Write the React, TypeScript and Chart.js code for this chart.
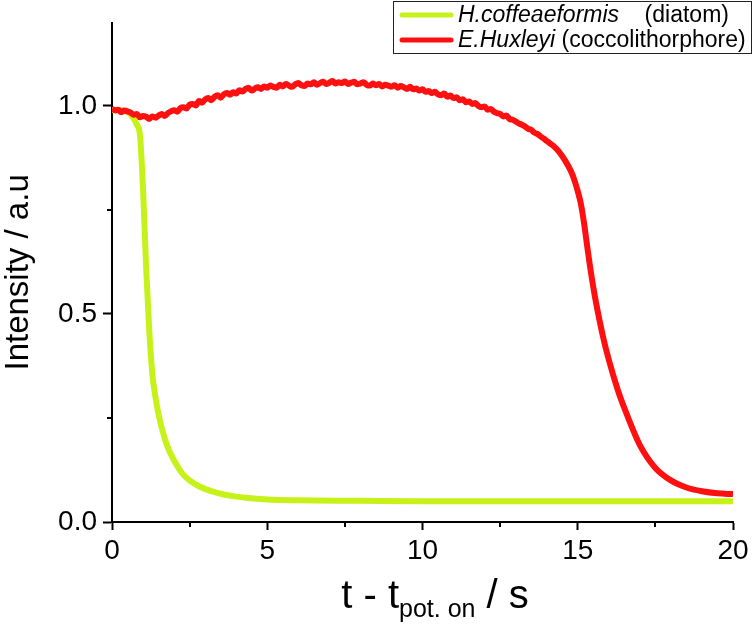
import React, { useEffect, useRef } from "react";
import { Chart, registerables } from "chart.js";

Chart.register(...registerables);

// ---------- data ----------
const redTimes = [
  0, 0.1, 0.2, 0.3, 0.4, 0.5, 0.6, 0.7, 0.8, 0.9,
  1.0, 1.1, 1.2, 1.3, 1.4, 1.5, 1.6, 1.7, 1.8, 1.9,
  2.0, 2.1, 2.2, 2.3, 2.4, 2.5, 2.6, 2.7, 2.8, 2.9,
  3.0, 3.1, 3.2, 3.3, 3.4, 3.5, 3.6, 3.7, 3.8, 3.9,
  4.0, 4.1, 4.2, 4.3, 4.4, 4.5, 4.6, 4.7, 4.8, 4.9,
  5.0, 5.1, 5.2, 5.3, 5.4, 5.5, 5.6, 5.7, 5.8, 5.9,
  6.0, 6.1, 6.2, 6.3, 6.4, 6.5, 6.6, 6.7, 6.8, 6.9,
  7.0, 7.1, 7.2, 7.3, 7.4, 7.5, 7.6, 7.7, 7.8, 7.9,
  8.0, 8.1, 8.2, 8.3, 8.4, 8.5, 8.6, 8.7, 8.8, 8.9,
  9.0, 9.1, 9.2, 9.3, 9.4, 9.5, 9.6, 9.7, 9.8, 9.9,
  10.0, 10.1, 10.2, 10.3, 10.4, 10.5, 10.6, 10.7, 10.8, 10.9,
  11.0, 11.1, 11.2, 11.3, 11.4, 11.5, 11.6, 11.7, 11.8, 11.9,
  12.0, 12.1, 12.2, 12.3, 12.4, 12.5, 12.6, 12.7, 12.8, 12.9,
  13.0, 13.1, 13.2, 13.3, 13.4, 13.5, 13.6, 13.7, 13.8, 13.9,
  14.0, 14.2, 14.4, 14.6, 14.8, 14.9, 15.0, 15.1, 15.2, 15.3,
  15.4, 15.5, 15.6, 15.8, 16.0, 16.3, 16.6, 17.0, 17.5, 18.0,
  18.5, 19.0, 19.5, 20.0,
];
const redValues = [
  0.993, 0.990, 0.991, 0.985, 0.989, 0.987, 0.984, 0.979, 0.981, 0.973,
  0.976, 0.974, 0.969, 0.975, 0.972, 0.977, 0.981, 0.976, 0.983, 0.987,
  0.990, 0.986, 0.995, 0.997, 0.994, 1.003, 1.005, 1.001, 1.012, 1.008,
  1.016, 1.019, 1.014, 1.022, 1.026, 1.020, 1.028, 1.031, 1.027, 1.033,
  1.030, 1.038, 1.035, 1.041, 1.044, 1.037, 1.042, 1.045, 1.041, 1.047,
  1.044, 1.049, 1.046, 1.044, 1.051, 1.047, 1.053, 1.049, 1.046, 1.052,
  1.055, 1.050, 1.048, 1.054, 1.052, 1.057, 1.051, 1.055, 1.058, 1.053,
  1.056, 1.060, 1.054, 1.057, 1.055, 1.059, 1.053, 1.056, 1.058, 1.052,
  1.054, 1.057, 1.051, 1.049, 1.054, 1.050, 1.053, 1.047, 1.051, 1.049,
  1.046, 1.050, 1.044, 1.048, 1.045, 1.041, 1.046, 1.040, 1.042, 1.037,
  1.040, 1.034, 1.036, 1.031, 1.034, 1.028, 1.026, 1.030, 1.022, 1.025,
  1.019, 1.021, 1.014, 1.016, 1.009, 1.011, 1.005, 1.007, 1.000, 0.997,
  0.999, 0.991, 0.993, 0.986, 0.983, 0.981, 0.975, 0.977, 0.969, 0.967,
  0.963, 0.958, 0.955, 0.951, 0.945, 0.943, 0.936, 0.933, 0.927, 0.922,
  0.916, 0.905, 0.890, 0.868, 0.840, 0.820, 0.795, 0.765, 0.720, 0.665,
  0.612, 0.565, 0.523, 0.450, 0.390, 0.315, 0.255, 0.185, 0.130, 0.100,
  0.083, 0.074, 0.069, 0.067,
];

const greenTimes = [
  0, 0.3, 0.5, 0.65, 0.8, 0.9, 1.0, 1.1, 1.2, 1.3,
  1.4, 1.5, 1.7, 1.85, 2.0, 2.27, 2.5, 2.8, 3.2, 3.6,
  4.0, 4.5, 5.0, 6.0, 8.0, 10.0, 15.0, 20.0,
];
const greenValues = [
  0.99, 0.99, 0.985, 0.975, 0.955, 0.93, 0.80, 0.61, 0.46, 0.355,
  0.30, 0.258, 0.20, 0.17, 0.148, 0.116, 0.10, 0.086, 0.074, 0.066,
  0.061, 0.057, 0.054, 0.052, 0.051, 0.05, 0.05, 0.05,
];

const xTicks = [0, 5, 10, 15, 20];
const yTicks = [0, 0.5, 1.0];
const xMinorTicks = [2.5, 7.5, 12.5, 17.5];
const yMinorTicks = [0.25, 0.75];

const greenLabel = ["H.coffeaeformis", "    (diatom)"];
const redLabel = ["E.Huxleyi", " (coccolithorphore)"];
const yTitle = "Intensity / a.u";
const xTitleParts = ["t - t", "pot. on", " / s"];

const GREEN = "#c6f21a";
const RED = "#ff1010";
const FONT = "'Liberation Sans', Arial, sans-serif";

const decorPlugin = {
  id: "decor",
  afterDraw(chart: any) {
    const ctx = chart.ctx as CanvasRenderingContext2D;
    const xs = chart.scales.x;
    const ys = chart.scales.y;
    const area = chart.chartArea;
    ctx.save();
    // minor ticks
    ctx.strokeStyle = "#000";
    ctx.lineWidth = 2;
    xMinorTicks.forEach((v) => {
      const px = Math.round(xs.getPixelForValue(v));
      ctx.beginPath();
      ctx.moveTo(px, area.bottom);
      ctx.lineTo(px, area.bottom + 5);
      ctx.stroke();
    });
    yMinorTicks.forEach((v) => {
      const py = Math.round(ys.getPixelForValue(v));
      ctx.beginPath();
      ctx.moveTo(area.left, py);
      ctx.lineTo(area.left - 5, py);
      ctx.stroke();
    });

    // y title
    ctx.save();
    ctx.translate(28, (area.top + area.bottom) / 2);
    ctx.rotate(-Math.PI / 2);
    ctx.fillStyle = "#000";
    ctx.font = `33px ${FONT}`;
    ctx.textAlign = "center";
    ctx.textBaseline = "alphabetic";
    ctx.fillText(yTitle, 0, 0);
    ctx.restore();

    // x title with subscript
    const bigFont = `40px ${FONT}`;
    const subFont = `25px ${FONT}`;
    ctx.font = bigFont;
    const w1 = ctx.measureText(xTitleParts[0]).width;
    const w3 = ctx.measureText(xTitleParts[2]).width;
    ctx.font = subFont;
    const w2 = ctx.measureText(xTitleParts[1]).width;
    const total = w1 + w2 + w3;
    let x = 435 - total / 2;
    const base = 608;
    ctx.fillStyle = "#000";
    ctx.textBaseline = "alphabetic";
    ctx.textAlign = "left";
    ctx.font = bigFont;
    ctx.fillText(xTitleParts[0], x, base);
    x += w1;
    ctx.font = subFont;
    ctx.fillText(xTitleParts[1], x, base + 9);
    x += w2;
    ctx.font = bigFont;
    ctx.fillText(xTitleParts[2], x, base);

    // legend
    ctx.lineWidth = 1;
    ctx.strokeStyle = "#222";
    ctx.strokeRect(393.5, 1.5, 358, 52);
    const rows = [
      { color: GREEN, parts: greenLabel, y: 15 },
      { color: RED, parts: redLabel, y: 40 },
    ];
    rows.forEach((r) => {
      ctx.strokeStyle = r.color;
      ctx.lineWidth = 5;
      ctx.lineCap = "round";
      ctx.beginPath();
      ctx.moveTo(402, r.y);
      ctx.lineTo(451, r.y);
      ctx.stroke();
      ctx.fillStyle = "#000";
      ctx.textBaseline = "middle";
      ctx.font = `italic 23px ${FONT}`;
      ctx.fillText(r.parts[0], 458, r.y + 1);
      const wi = ctx.measureText(r.parts[0]).width;
      ctx.font = `23px ${FONT}`;
      ctx.fillText(r.parts[1], 458 + wi, r.y + 1);
    });
    ctx.restore();
  },
};

export default function App() {
  const ref = useRef<HTMLCanvasElement | null>(null);
  useEffect(() => {
    if (!ref.current) return;
    const chart = new Chart(ref.current, {
      type: "line",
      data: {
        datasets: [
          {
            label: redLabel.join(""),
            data: redTimes.map((t, i) => ({ x: t, y: redValues[i] })),
            borderColor: RED,
            borderWidth: 6,
            pointRadius: 0,
            cubicInterpolationMode: "monotone",
            borderJoinStyle: "round",
            order: 0,
          },
          {
            label: greenLabel.join(""),
            data: greenTimes.map((t, i) => ({ x: t, y: greenValues[i] })),
            borderColor: GREEN,
            borderWidth: 6,
            pointRadius: 0,
            cubicInterpolationMode: "monotone",
            order: 1,
          },
        ],
      },
      options: {
        responsive: false,
        animation: false,
        layout: { padding: { top: 18, right: 21, left: 0, bottom: 0 } },
        plugins: { legend: { display: false }, tooltip: { enabled: false } },
        scales: {
          x: {
            type: "linear",
            min: 0,
            max: 20,
            afterFit: (s: any) => {
              s.height = 104;
            },
            afterBuildTicks: (s: any) => {
              s.ticks = xTicks.map((v) => ({ value: v }));
            },
            border: { display: true, color: "#000", width: 2 },
            grid: {
              drawOnChartArea: false,
              drawTicks: true,
              tickLength: 8,
              tickColor: "#000",
              tickWidth: 2,
            },
            ticks: {
              color: "#000",
              font: { family: FONT, size: 28 },
              padding: 4,
              maxRotation: 0,
              callback: (v: any) => String(v),
            },
          },
          y: {
            type: "linear",
            min: 0,
            max: 1.2,
            afterFit: (s: any) => {
              s.width = 112;
            },
            afterBuildTicks: (s: any) => {
              s.ticks = yTicks.map((v) => ({ value: v }));
            },
            border: { display: true, color: "#000", width: 2 },
            grid: {
              drawOnChartArea: false,
              drawTicks: true,
              tickLength: 9,
              tickColor: "#000",
              tickWidth: 2,
            },
            ticks: {
              color: "#000",
              font: { family: FONT, size: 28 },
              padding: 6,
              callback: (v: any) => Number(v).toFixed(1),
            },
            title: { display: false },
          },
        },
      },
      plugins: [decorPlugin],
    } as any);
    return () => chart.destroy();
  }, []);
  return (
    <div style={{ position: "absolute", left: 0, top: 0, width: 754, height: 626, background: "#fff" }}>
      <canvas ref={ref} width={754} height={626} style={{ display: "block" }} />
    </div>
  );
}
